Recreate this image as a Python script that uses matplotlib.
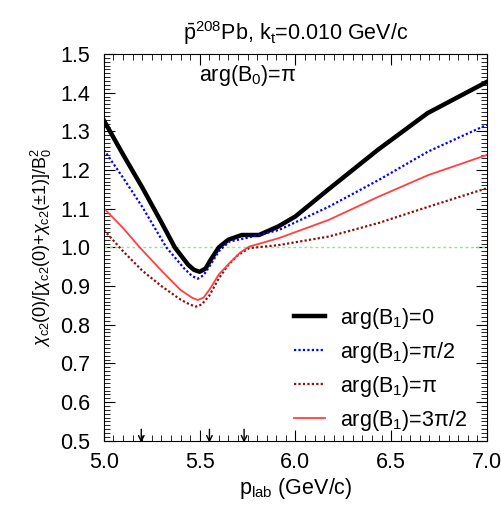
import matplotlib
matplotlib.use("Agg")
import matplotlib.pyplot as plt
from matplotlib.ticker import MultipleLocator, FormatStrFormatter

plt.rcParams["font.family"] = ["Liberation Sans", "DejaVu Sans"]
plt.rcParams["mathtext.fontset"] = "custom"
plt.rcParams["mathtext.rm"] = "Liberation Sans"
plt.rcParams["mathtext.it"] = "Liberation Sans:italic"
plt.rcParams["mathtext.bf"] = "Liberation Sans:bold"

FS = 15.5

# =========================
# DATA
# =========================
x_b0 = [5.0, 5.1, 5.2, 5.3, 5.37, 5.44, 5.47, 5.50, 5.53, 5.56, 5.60, 5.65, 5.72, 5.81, 5.91, 6.0, 6.17, 6.43, 6.69, 7.0]
y_b0 = [1.328, 1.24, 1.155, 1.065, 1.0, 0.955, 0.942, 0.937, 0.945, 0.97, 1.0, 1.02, 1.032, 1.032, 1.054, 1.08, 1.149, 1.252, 1.347, 1.428]

x_b1 = [5.0, 5.1, 5.2, 5.326, 5.42, 5.46, 5.49, 5.52, 5.55, 5.60, 5.655, 5.75, 5.914, 6.174, 6.434, 6.694, 7.0]
y_b1 = [1.252, 1.18, 1.105, 1.0, 0.945, 0.926, 0.919, 0.928, 0.95, 0.99, 1.015, 1.025, 1.045, 1.105, 1.174, 1.248, 1.317]

x_b2 = [5.0, 5.1, 5.2, 5.3, 5.4, 5.45, 5.48, 5.51, 5.55, 5.6, 5.65, 5.7, 5.758, 5.914, 6.174, 6.434, 6.694, 7.0]
y_b2 = [1.045, 0.99, 0.94, 0.9, 0.865, 0.852, 0.847, 0.852, 0.875, 0.92, 0.955, 0.98, 0.998, 1.006, 1.028, 1.063, 1.105, 1.153]

x_b3 = [5.0, 5.1, 5.187, 5.3, 5.4, 5.46, 5.49, 5.52, 5.55, 5.60, 5.655, 5.71, 5.758, 5.914, 6.174, 6.434, 6.694, 7.0]
y_b3 = [1.101, 1.05, 1.0, 0.94, 0.89, 0.87, 0.864, 0.87, 0.89, 0.93, 0.959, 0.986, 1.002, 1.024, 1.071, 1.131, 1.187, 1.239]

labels = [r"arg(B$_{1}$)=0", r"arg(B$_{1}$)=π/2", r"arg(B$_{1}$)=π", r"arg(B$_{1}$)=3π/2"]
arrow_x = [5.195, 5.551, 5.732]

# =========================
# PLOT
# =========================
fig = plt.figure(figsize=(5.02, 5.09), dpi=100)
ax = fig.add_axes([0.207, 0.134, 0.763, 0.760])

ax.axhline(1.0, color="#80f080", lw=1.0, ls=(0, (2, 2)))
ax.plot(x_b0, y_b0, color="black", lw=3.2, label=labels[0])
ax.plot(x_b1, y_b1, color="#0000ff", lw=1.6, ls=(0, (1, 1)), label=labels[1])
ax.plot(x_b2, y_b2, color="#8b1010", lw=1.6, ls=(0, (1, 1)), label=labels[2])
ax.plot(x_b3, y_b3, color="#ff4040", lw=1.3, label=labels[3])

# arrows on the bottom axis
for xa in arrow_x:
    ax.annotate("", xy=(xa, 0.488), xytext=(xa, 0.537),
                arrowprops=dict(arrowstyle="->", color="black", lw=1.0),
                annotation_clip=False)

ax.set_xlim(5.0, 7.0)
ax.set_ylim(0.5, 1.5)
ax.xaxis.set_major_locator(MultipleLocator(0.5))
ax.xaxis.set_minor_locator(MultipleLocator(0.05))
ax.yaxis.set_major_locator(MultipleLocator(0.1))
ax.yaxis.set_minor_locator(MultipleLocator(0.01))
ax.xaxis.set_major_formatter(FormatStrFormatter("%.1f"))
ax.yaxis.set_major_formatter(FormatStrFormatter("%.1f"))
ax.tick_params(which="both", direction="in", top=True, right=True, labelsize=FS)
ax.tick_params(which="major", length=8, width=0.8)
ax.tick_params(which="minor", length=4, width=0.6)
ax.tick_params(axis="x", pad=8)
ax.tick_params(axis="y", pad=10)

ax.set_title(r"$\bar{\rm p}^{208}$Pb, k$_{\rm t}$=0.010 GeV/c", fontsize=FS, pad=10)
ax.set_xlabel(r"p$_{\rm lab}$ (GeV/c)", fontsize=FS, labelpad=2)
ax.set_ylabel(r"$\chi_{\rm c2}$(0)/[$\chi_{\rm c2}$(0)+$\chi_{\rm c2}$(±1)]/B$_{0}^{2}$",
              fontsize=13, labelpad=4)

ax.text(5.75, 1.445, r"arg(B$_{0}$)=π", fontsize=FS, ha="center", va="center")

ax.legend(loc="lower right", frameon=False, fontsize=FS, handlelength=1.45,
          handletextpad=0.7, labelspacing=0.42, bbox_to_anchor=(1.0, -0.03))

fig.savefig("out.png", dpi=100)
